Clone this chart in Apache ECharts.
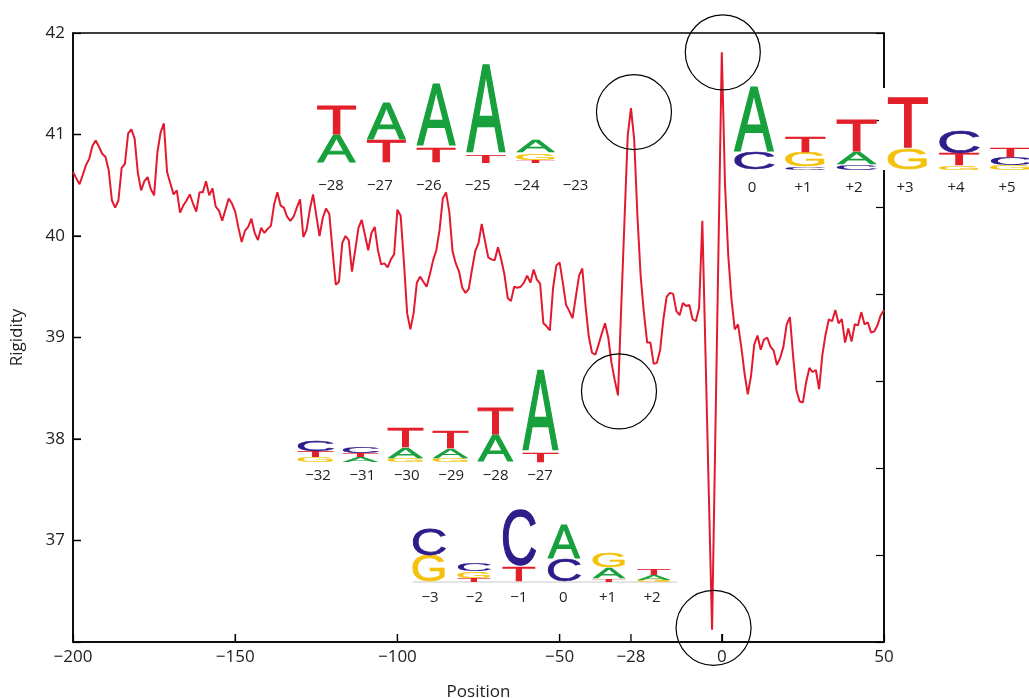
<!DOCTYPE html>
<html><head><meta charset="utf-8">
<script src="https://cdn.jsdelivr.net/npm/echarts@6/dist/echarts.min.js"></script>
<style>html,body{margin:0;padding:0;background:#fff}#c{width:1029px;height:698px}</style>
</head><body><div id="c"></div>
<script>
// ---------- data ----------
const positionStart = -200;
// rigidity, positions -200 .. -101
const rigidityA = [
40.63,40.57,40.51,40.60,40.70,40.76,40.89,40.94,40.88,40.81,
40.78,40.65,40.35,40.28,40.35,40.67,40.71,41.01,41.05,40.96,
40.62,40.45,40.54,40.58,40.46,40.40,40.82,41.02,41.11,40.63,
40.52,40.41,40.45,40.23,40.30,40.35,40.41,40.32,40.24,40.43,
40.43,40.54,40.40,40.47,40.29,40.25,40.15,40.26,40.37,40.32,
40.24,40.08,39.94,40.05,40.09,40.17,40.03,39.96,40.08,40.03,
40.07,40.10,40.31,40.43,40.30,40.28,40.19,40.15,40.19,40.28,
40.36,39.99,40.06,40.26,40.41,40.20,40.00,40.18,40.27,40.22,
39.86,39.52,39.55,39.93,40.00,39.96,39.65,39.86,40.08,40.16,
40.01,39.86,40.03,40.09,39.86,39.72,39.73,39.69,39.77,39.82];
// rigidity, positions -100 .. -1
const rigidityB = [
40.26,40.20,39.75,39.24,39.08,39.24,39.54,39.60,39.55,39.50,
39.62,39.76,39.86,40.06,40.37,40.43,40.24,39.85,39.73,39.65,
39.49,39.44,39.48,39.67,39.85,39.93,40.12,39.95,39.79,39.77,
39.76,39.89,39.77,39.62,39.39,39.36,39.50,39.49,39.50,39.54,
39.61,39.54,39.67,39.57,39.53,39.14,39.11,39.07,39.49,39.71,
39.74,39.54,39.32,39.26,39.19,39.40,39.61,39.68,39.31,39.01,
38.85,38.83,38.93,39.04,39.14,39.00,38.75,38.58,38.43,39.30,
40.15,40.99,41.26,40.95,40.19,39.60,39.24,38.95,38.95,38.74,
38.75,38.88,39.18,39.40,39.44,39.43,39.26,39.22,39.34,39.31,
39.32,39.18,39.16,39.29,40.15,38.81,37.46,36.12,38.02,39.92];
// rigidity, positions 0 .. 50
const rigidityC = [
41.81,40.50,39.80,39.37,39.08,39.13,38.91,38.65,38.44,38.62,
38.93,39.02,38.88,38.98,39.00,38.91,38.87,38.73,38.80,38.91,
39.13,39.20,38.81,38.48,38.37,38.36,38.56,38.70,38.66,38.68,
38.49,38.83,39.03,39.18,39.16,39.27,39.14,39.18,38.95,39.09,
38.96,39.13,39.12,39.25,39.13,39.15,39.05,39.06,39.12,39.22,
39.27];
const xTickStep = 50;                       // labels -200, -150, ..., 50
const xInnerTicks = [-150, -100, -50, -28, 0];
const extraXTick = -28;                     // additional labelled tick
const yInnerTicks = [37, 38, 39, 40, 41];
const yFirstLabel = 37;                     // 36 is not labelled
const circledPositions = [0, -28, -32, -3];

// sequence logos: per column, letters bottom -> top with height in bits
const logo1Labels = ['−28','−27','−26','−25','−24','−23'];
const logo1Stacks = [
  [['A',0.56],['T',0.58]],
  [['T',0.44],['A',0.74]],
  [['T',0.30],['A',1.26]],
  [['T',0.16],['A',1.78]],
  [['T',0.06],['G',0.14],['A',0.24]],
  []];
const logo2Labels = ['0','+1','+2','+3','+4','+5'];
const logo2Stacks = [
  [['C',0.34],['A',1.30]],
  [['C',0.06],['G',0.28],['T',0.32]],
  [['C',0.10],['A',0.24],['T',0.64]],
  [['G',0.42],['T',1.00]],
  [['G',0.08],['T',0.24],['C',0.44]],
  [['G',0.10],['C',0.16],['T',0.18]]];
const logo3Labels = ['−32','−31','−30','−29','−28','−27'];
const logo3Stacks = [
  [['G',0.10],['T',0.12],['C',0.20]],
  [['A',0.10],['T',0.08],['C',0.14]],
  [['G',0.08],['A',0.20],['T',0.40]],
  [['G',0.08],['A',0.18],['T',0.34]],
  [['A',0.54],['T',0.54]],
  [['T',0.18],['A',1.62]]];
const logo4Labels = ['−3','−2','−1','0','+1','+2'];
const logo4Stacks = [
  [['G',0.52],['C',0.54]],
  [['T',0.08],['G',0.14],['C',0.16]],
  [['T',0.30],['C',1.12]],
  [['C',0.44],['A',0.68]],
  [['T',0.06],['A',0.22],['G',0.28]],
  [['G',0.04],['A',0.10],['T',0.14]]];

// ---------- build ----------
const X_MIN = -200, X_MAX = 50, Y_MIN = 36, Y_MAX = 42;
const rigidity = rigidityA.concat(rigidityB, rigidityC);
const lineData = rigidity.map((v, i) => [positionStart + i, v]);
const valueAt = p => rigidity[p - positionStart];
const minus = v => (v < 0 ? '−' + Math.abs(v) : String(v));

const circleOffsets = [[1, 0], [3, 4], [1, -4], [1.5, -2]];
const markData = circledPositions.map((p, i) => ({
  coord: [p, valueAt(p)], symbolOffset: circleOffsets[i]
}));

const axisFont = {fontFamily: 'Open Sans', fontSize: 17, color: '#222'};

const LETTER_COLORS = {A: '#17a03c', C: '#2e1c8a', G: '#f4c20d', T: '#e3202a'};
const INK = {A: 0.67, C: 0.63, G: 0.67, T: 0.57};
const CAP = 0.716, MID = 0.048, FS = 100;
function logoElements(stacks, labels, L) {
  const els = [];
  stacks.forEach((stack, i) => {
    const cx = L.x0 + i * L.dx;
    let yb = L.base;
    stack.forEach(([ch, bits]) => {
      const h = bits * L.pxPerBit;
      const sy = h / (CAP * FS), sx = L.w / (INK[ch] * FS);
      const cy = yb - h / 2;
      els.push({type: 'text', x: cx, y: cy + MID * FS * sy, scaleX: sx, scaleY: sy, z: 50, silent: true,
        style: {text: ch, fill: LETTER_COLORS[ch], font: '100px "Liberation Sans"', align: 'center', verticalAlign: 'middle',
          stroke: LETTER_COLORS[ch], lineWidth: 2}});
      yb -= h;
    });
  });
  labels.forEach((t, i) => els.push({type: 'text', x: L.lx0 + i * L.ldx, y: L.ly, z: 50, silent: true,
    style: {text: t, fill: '#222', font: '15px "Open Sans"', align: 'center', verticalAlign: 'middle'}}));
  return els;
}

const graphics = [
  {type: 'rect', shape: {x: 879, y: 88, width: 9, height: 82}, style: {fill: '#fff'}, z: 40, silent: true},
  {type: 'line', shape: {x1: 413, y1: 582, x2: 677, y2: 582}, style: {stroke: '#c8c8c8', lineWidth: 1}, z: 45, silent: true}
].concat(
  logoElements(logo1Stacks, logo1Labels, {x0: 336.5, dx: 49.8, base: 163, w: 38, pxPerBit: 50, lx0: 331, ldx: 48.9, ly: 186}),
  logoElements(logo2Stacks, logo2Labels, {x0: 754, dx: 51.3, base: 170, w: 39, pxPerBit: 50, lx0: 752, ldx: 51, ly: 188}),
  logoElements(logo3Stacks, logo3Labels, {x0: 315.5, dx: 45, base: 462, w: 35, pxPerBit: 50, lx0: 318, ldx: 44.4, ly: 476}),
  logoElements(logo4Stacks, logo4Labels, {x0: 429, dx: 45, base: 582, w: 32, pxPerBit: 50, lx0: 430, ldx: 44.4, ly: 598})
);

const chart = echarts.init(document.getElementById('c'));
chart.setOption({
  animation: false,
  backgroundColor: '#fff',
  grid: {left: 73, right: 145, top: 33, bottom: 56, containLabel: false, outerBoundsMode: 'none',
    show: true, borderColor: '#000', borderWidth: 1.5, backgroundColor: 'transparent'},
  xAxis: {
    type: 'value', min: X_MIN, max: X_MAX, interval: xTickStep,
    name: 'Position', nameLocation: 'middle', nameGap: 42,
    nameTextStyle: {fontFamily: 'Open Sans', fontSize: 17, color: '#222'},
    axisLine: {show: true, onZero: false, lineStyle: {color: '#000', width: 1.5}},
    axisTick: {show: true, inside: true, length: 8, lineStyle: {color: '#000', width: 1.2}},
    axisLabel: {formatter: minus, margin: 7, ...axisFont},
    splitLine: {show: false}
  },
  yAxis: [{
    type: 'value', min: Y_MIN, max: Y_MAX, interval: 1, position: 'left',
    name: 'Rigidity', nameLocation: 'middle', nameGap: 47, nameRotate: 90,
    nameTextStyle: {fontFamily: 'Open Sans', fontSize: 17, color: '#222'},
    axisLine: {show: true, onZero: false, lineStyle: {color: '#000', width: 1.5}},
    axisTick: {show: true, inside: true, length: 8, lineStyle: {color: '#000', width: 1.2}},
    axisLabel: {formatter: v => (v < yFirstLabel ? '' : String(v)), margin: 8, ...axisFont},
    splitLine: {show: false}
  }, {
    type: 'value', min: 0, max: 7, interval: 1, position: 'right',
    axisLine: {show: true, onZero: false, lineStyle: {color: '#000', width: 1.5}},
    axisTick: {show: true, inside: true, length: 8, lineStyle: {color: '#000', width: 1.2}},
    axisLabel: {show: false}, splitLine: {show: false}
  }],
  series: [{
    type: 'line', data: lineData, showSymbol: false, symbol: 'none',
    lineStyle: {color: '#e31a2f', width: 2},
    markPoint: {
      symbol: 'circle', symbolSize: 75, silent: true,
      itemStyle: {color: 'rgba(0,0,0,0)', borderColor: '#000', borderWidth: 1.2},
      label: {show: false},
      data: markData
    }
  }],
  graphic: graphics
});

// inward tick marks and the extra "−28" label, placed through the axes' own scale
const px = (x, y) => chart.convertToPixel({xAxisIndex: 0, yAxisIndex: 0}, [x, y]);
const tickEls = [];
xInnerTicks.forEach(x => {
  const p = px(x, Y_MIN);
  tickEls.push({type: 'line', shape: {x1: p[0], y1: p[1], x2: p[0], y2: p[1] - 8},
    style: {stroke: '#000', lineWidth: 1.3}, z: 60, silent: true});
  if (x === extraXTick) {
    tickEls.push({type: 'text', x: p[0], y: p[1] + 7, z: 60, silent: true,
      style: {text: minus(x), fill: axisFont.color, font: axisFont.fontSize + 'px "' + axisFont.fontFamily + '"',
        align: 'center', verticalAlign: 'top'}});
  }
});
yInnerTicks.forEach(y => {
  const p = px(X_MIN, y);
  tickEls.push({type: 'line', shape: {x1: p[0], y1: p[1], x2: p[0] + 8, y2: p[1]},
    style: {stroke: '#000', lineWidth: 1.3}, z: 60, silent: true});
});
chart.setOption({graphic: graphics.concat(tickEls)});
</script>
</body></html>
